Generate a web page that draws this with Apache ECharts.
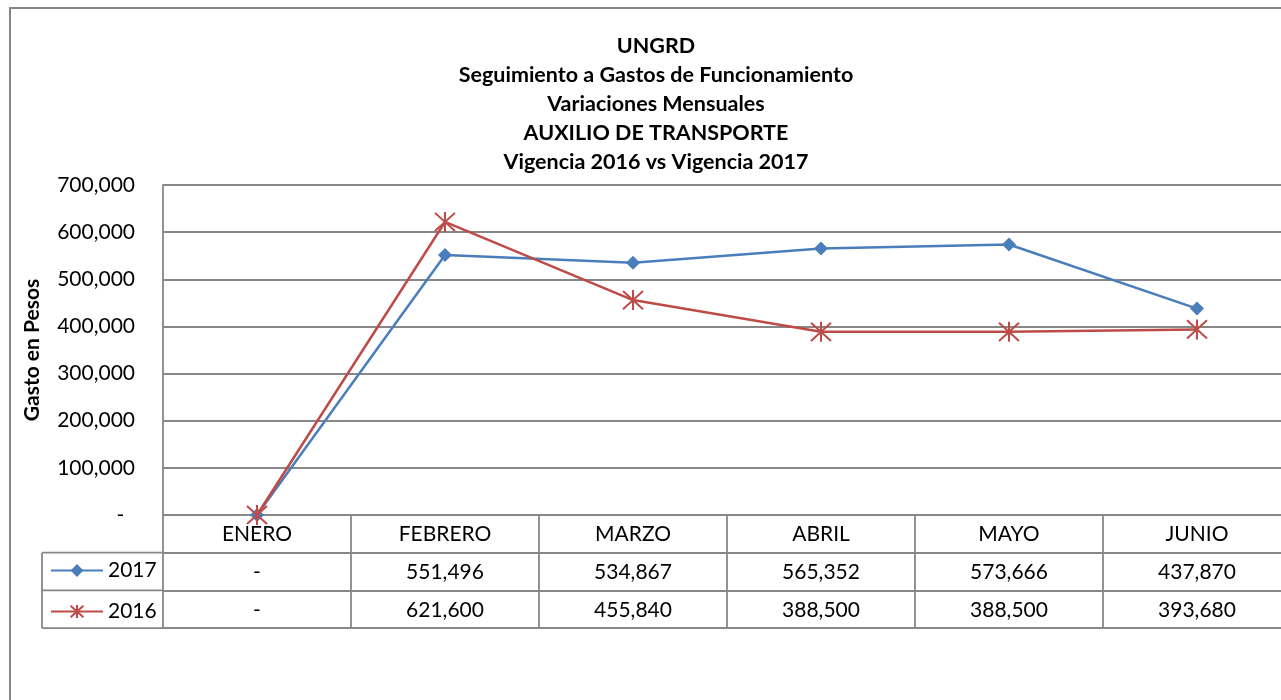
<!DOCTYPE html>
<html>
<head>
<meta charset="utf-8">
<script src="https://cdn.jsdelivr.net/npm/echarts@6/dist/echarts.min.js"></script>
<style>
  html, body { margin: 0; padding: 0; background: #fff; }
  #chart { width: 1281px; height: 700px; }
</style>
</head>
<body>
<div id="chart"></div>
<script>
// data
const months = ["ENERO", "FEBRERO", "MARZO", "ABRIL", "MAYO", "JUNIO"];
const gasto2017 = [0, 551496, 534867, 565352, 573666, 437870];
const gasto2016 = [0, 621600, 455840, 388500, 388500, 393680];
const yTicks = [0, 100000, 200000, 300000, 400000, 500000, 600000, 700000];
const titleLines = [
  "UNGRD",
  "Seguimiento a Gastos de Funcionamiento",
  "Variaciones Mensuales",
  "AUXILIO DE TRANSPORTE",
  "Vigencia 2016 vs Vigencia 2017"
];

const FONT = "Lato";
const GRAY = "#878787";
const BLUE = "#4A7EBB";
const RED = "#BE4B48";
const FS = 21;

const fmt = v => (v === 0 ? "-" : v.toLocaleString("en-US"));

// grid / table layout
const gridLeft = 163, gridTop = 185, gridW = 1128, gridH = 330;
const rowH = 37.7;
const asterisk = "path://M0,0L20,20M20,0L0,20M10,-1L10,21";

const chart = echarts.init(document.getElementById("chart"));

const tableAxis = (offset, values) => ({
  type: "category",
  gridIndex: 0,
  position: "bottom",
  offset: offset,
  data: months,
  axisLine: { show: true, lineStyle: { color: GRAY, width: 1.8 } },
  axisTick: { show: false },
  splitLine: { show: false },
  axisLabel: {
    show: !!values,
    margin: 9,
    color: "#000",
    fontFamily: FONT,
    fontSize: FS,
    formatter: (v, i) => (values ? fmt(values[i]) : "")
  }
});

const option = {
  animation: false,
  title: {
    text: titleLines.join("\n"),
    left: 651,
    textAlign: "center",
    top: 27,
    textStyle: {
      fontFamily: FONT,
      fontWeight: "bold",
      fontSize: 21.5,
      lineHeight: 29,
      color: "#000"
    }
  },
  legend: {
    orient: "vertical",
    left: 45,
    top: 555,
    itemWidth: 52,
    itemHeight: 16,
    itemGap: 20,
    textStyle: { fontFamily: FONT, fontSize: FS, color: "#000" },
    data: ["2017", "2016"]
  },
  grid: { left: gridLeft, top: gridTop, width: gridW, height: gridH, outerBoundsMode: "none" },
  xAxis: [
    {
      type: "category",
      data: months,
      boundaryGap: true,
      axisLine: { show: true, lineStyle: { color: GRAY, width: 1.8 } },
      axisTick: {
        show: true,
        inside: false,
        length: rowH * 3,
        lineStyle: { color: GRAY, width: 1.8 }
      },
      axisLabel: {
        margin: 9,
        color: "#000",
        fontFamily: FONT,
        fontSize: FS
      }
    },
    tableAxis(rowH, gasto2017),
    tableAxis(rowH * 2, gasto2016),
    tableAxis(rowH * 3, null)
  ],
  yAxis: {
    type: "value",
    min: yTicks[0],
    max: yTicks[yTicks.length - 1],
    interval: yTicks[1] - yTicks[0],
    name: "Gasto en Pesos",
    nameLocation: "middle",
    nameRotate: 90,
    nameGap: 120,
    nameTextStyle: { fontFamily: FONT, fontWeight: "bold", fontSize: 21, color: "#000" },
    axisLine: { show: true, lineStyle: { color: GRAY, width: 1.8 } },
    axisTick: { show: false },
    splitLine: { lineStyle: { color: GRAY, width: 1.8 } },
    axisLabel: {
      margin: 28,
      color: "#000",
      fontFamily: FONT,
      fontSize: FS,
      formatter: v => (v === 0 ? "-  " : fmt(v))
    }
  },
  series: [
    {
      name: "2017",
      type: "line",
      data: gasto2017,
      symbol: "diamond",
      symbolSize: 14,
      showAllSymbol: true,
      lineStyle: { color: BLUE, width: 2.5 },
      itemStyle: { color: BLUE },
      z: 3
    },
    {
      name: "2016",
      type: "line",
      data: gasto2016,
      symbol: asterisk,
      symbolSize: 20,
      showAllSymbol: true,
      lineStyle: { color: RED, width: 2.5 },
      itemStyle: { color: "none", borderColor: RED, borderWidth: 2 },
      z: 4
    }
  ],
  graphic: [
    {
      type: "rect",
      shape: { x: 10, y: 8, width: 1400, height: 800 },
      style: { fill: "none", stroke: GRAY, lineWidth: 2 },
      silent: true,
      z: -1
    },
    // left part of the data table (legend cells)
    ...[1, 2, 3].map(r => ({
      type: "line",
      shape: { x1: 42, y1: gridTop + gridH + rowH * r, x2: gridLeft, y2: gridTop + gridH + rowH * r },
      style: { stroke: GRAY, lineWidth: 1.8 },
      silent: true
    })),
    {
      type: "line",
      shape: { x1: 42, y1: gridTop + gridH + rowH, x2: 42, y2: gridTop + gridH + rowH * 3 },
      style: { stroke: GRAY, lineWidth: 1.8 },
      silent: true
    }
  ]
};

chart.setOption(option);
</script>
</body>
</html>
